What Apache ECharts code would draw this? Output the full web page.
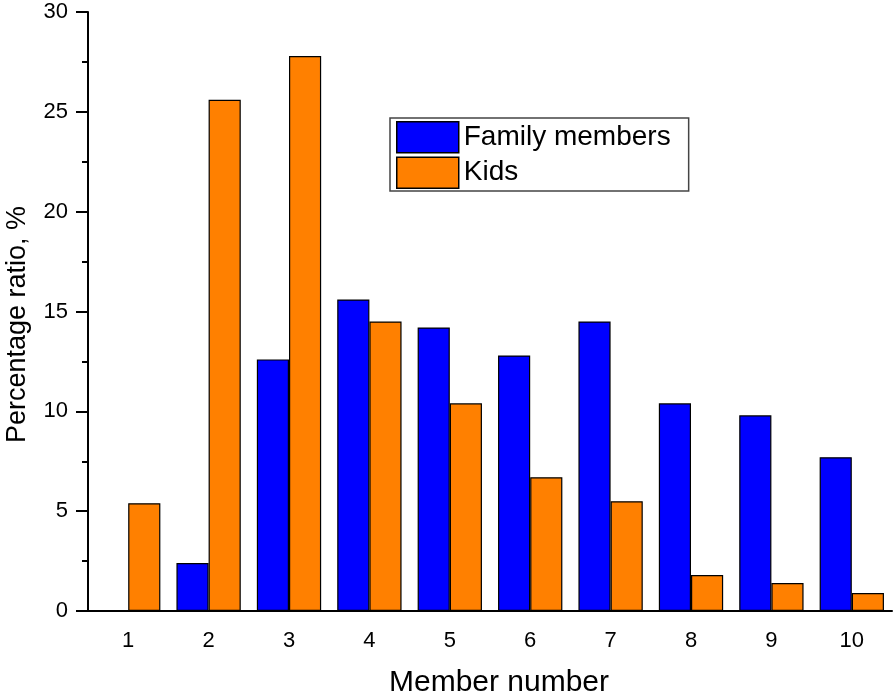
<!DOCTYPE html>
<html>
<head>
<meta charset="utf-8">
<script src="https://cdn.jsdelivr.net/npm/echarts@6/dist/echarts.min.js"></script>
<style>html,body{margin:0;padding:0;background:#fff;}#chart{width:896px;height:696px;}</style>
</head>
<body>
<div id="chart"></div>
<script>
const categories = ['1','2','3','4','5','6','7','8','9','10'];
const familyMembers = [null, 2.4, 12.6, 15.6, 14.2, 12.8, 14.5, 10.4, 9.8, 7.7];
const kids = [5.4, 25.6, 27.8, 14.5, 10.4, 6.7, 5.5, 1.8, 1.4, 0.9];
const yTicks = [0, 5, 10, 15, 20, 25, 30];

const FONT = '"Liberation Sans", Arial, sans-serif';
const chart = echarts.init(document.getElementById('chart'));
chart.setOption({
  animation: false,
  backgroundColor: '#fff',
  textStyle: { fontFamily: FONT, color: '#000' },
  grid: { left: 88, right: 4, top: 12, bottom: 85, containLabel: false, outerBoundsMode: 'none' },
  legend: {
    left: 390, top: 118,
    orient: 'vertical',
    padding: [3, 18, 2, 6],
    itemWidth: 62, itemHeight: 31, itemGap: 3,
    borderColor: '#444', borderWidth: 1.5,
    icon: 'rect',
    itemStyle: { borderColor: '#000', borderWidth: 1.5 },
    textStyle: { fontFamily: FONT, fontSize: 28, color: '#000', lineHeight: 31, padding: [0,0,0,0] },
    data: ['Family members', 'Kids']
  },
  xAxis: [{
    type: 'category',
    data: categories,
    position: 'bottom',
    name: 'Member number',
    nameLocation: 'middle',
    nameGap: 57,
    nameTextStyle: { fontFamily: FONT, fontSize: 30, color: '#000', padding: [0, 0, 0, 18] },
    axisLine: { lineStyle: { color: '#000', width: 2 } },
    axisTick: { alignWithLabel: true, length: 10, lineStyle: { color: '#000', width: 2 } },
    axisLabel: { fontFamily: FONT, fontSize: 22, color: '#000', margin: 19 },
    splitLine: { show: false }
  }, {
    type: 'category',
    data: categories,
    position: 'bottom',
    axisLine: { show: false },
    axisTick: { alignWithLabel: false, length: 6, lineStyle: { color: '#000', width: 2 } },
    axisLabel: { show: false },
    splitLine: { show: false }
  }],
  yAxis: {
    type: 'value',
    min: yTicks[0], max: yTicks[yTicks.length - 1], interval: 5,
    name: 'Percentage ratio, %',
    nameLocation: 'middle',
    nameGap: 57,
    nameTextStyle: { fontFamily: FONT, fontSize: 27, color: '#000', padding: [0, 26, 0, 0] },
    axisLine: { show: true, lineStyle: { color: '#000', width: 2 } },
    axisTick: { show: true, length: 12, lineStyle: { color: '#000', width: 2 } },
    minorTick: { show: true, splitNumber: 2, length: 6, lineStyle: { color: '#000', width: 2 } },
    axisLabel: { fontFamily: FONT, fontSize: 22, color: '#000', margin: 20 },
    splitLine: { show: false }
  },
  series: [{
    name: 'Family members',
    type: 'bar',
    xAxisIndex: 0,
    data: familyMembers,
    barGap: '0%',
    barCategoryGap: '20%',
    itemStyle: { color: '#0000FF', borderColor: '#000', borderWidth: 1.2 }
  }, {
    name: 'Kids',
    type: 'bar',
    xAxisIndex: 0,
    data: kids,
    barGap: '0%',
    barCategoryGap: '20%',
    itemStyle: { color: '#FF8000', borderColor: '#000', borderWidth: 1.2 }
  }]
});
</script>
</body>
</html>
